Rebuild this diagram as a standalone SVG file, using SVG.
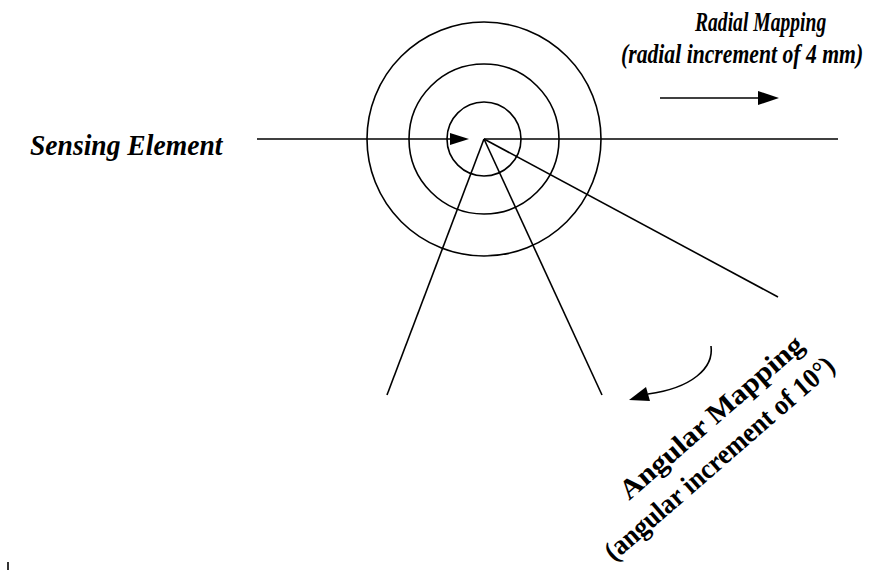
<svg xmlns="http://www.w3.org/2000/svg" width="869" height="571" viewBox="0 0 869 571">
<style>
.ln{stroke:#000;stroke-width:1.6;fill:none}
.lbl{font-family:"Liberation Serif","Times New Roman",serif;font-weight:bold;font-style:italic;fill:#000}
.ang{font-family:"Liberation Serif","Times New Roman",serif;font-weight:bold;fill:#000}
</style>
<rect width="869" height="571" fill="#fff"/>
<g id="rings">
<circle class="ln" cx="484" cy="139" r="37"/>
<circle class="ln" cx="484" cy="139" r="75"/>
<circle class="ln" cx="484" cy="139" r="117"/>
</g>
<g id="connectors">
<line class="ln" x1="257" y1="139" x2="450" y2="139"/>
<path d="M450,133 L469,139 L450,145 z" fill="#000"/>
<line class="ln" x1="484" y1="139" x2="838" y2="139"/>
<line class="ln" x1="484" y1="139" x2="387" y2="395"/>
<line class="ln" x1="484" y1="139" x2="602" y2="395"/>
<line class="ln" x1="484" y1="139" x2="778" y2="297"/>
<line class="ln" x1="660" y1="98" x2="760" y2="98"/>
<path d="M758,91 L779,98 L758,105 z" fill="#000"/>
<path class="ln" d="M711,346 C714,368 692,388 648,394"/>
<path d="M629,400 L646,387 L650,401 z" fill="#000"/>
<line class="ln" x1="8" y1="562" x2="8" y2="570" stroke-width="1.2"/>
</g>
<g id="sensing">
<text class="lbl" transform="translate(30,155) scale(0.92,1)" font-size="30">Sensing Element</text>
</g>
<g id="radial">
<text class="lbl" transform="translate(695,31) scale(0.7,1)" font-size="28">Radial Mapping</text>
<text class="lbl" transform="translate(621,63) scale(0.775,1)" font-size="28">(radial increment of 4 mm)</text>
</g>
<g id="angular">
<text class="ang" transform="translate(629,501) rotate(-41)" font-size="28" textLength="234" lengthAdjust="spacingAndGlyphs">Angular Mapping</text>
<text class="ang" transform="translate(614,562) rotate(-41)" font-size="28" textLength="295" lengthAdjust="spacingAndGlyphs">(angular increment of 10°)</text>
</g>
</svg>
